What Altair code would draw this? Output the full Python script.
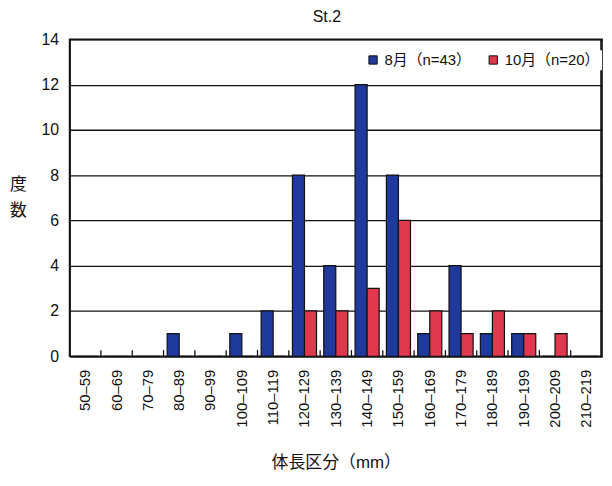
import altair as alt
import pandas as pd

categories = ["50–59", "60–69", "70–79", "80–89", "90–99", "100–109", "110–119",
              "120–129", "130–139", "140–149", "150–159", "160–169", "170–179",
              "180–189", "190–199", "200–209", "210–219"]
aug = [0, 0, 0, 1, 0, 1, 2, 8, 4, 12, 8, 1, 4, 1, 1, 0, 0]
octo = [0, 0, 0, 0, 0, 0, 0, 2, 2, 3, 6, 2, 1, 2, 1, 1, 0]
series = ["8月（n=43）", "10月（n=20）"]
colors = ["#1F3A9C", "#E0384C"]

rows = []
for c, a, o in zip(categories, aug, octo):
    rows.append({"cat": c, "series": series[0], "v": a})
    rows.append({"cat": c, "series": series[1], "v": o})
df = pd.DataFrame(rows)
ticks_df = pd.DataFrame({"cat": categories[1:]})

FONT = "Liberation Sans, Arial, Noto Sans CJK JP"
W, H = 536, 319
INK = "#111111"

xscale = alt.Scale(domain=categories, paddingInner=0, paddingOuter=0)
yscale = alt.Scale(domain=[0, 14], nice=False)

bars = alt.Chart(df).mark_bar(stroke=INK, strokeWidth=1.2).encode(
    x=alt.X("cat:N", scale=xscale, sort=categories,
            axis=alt.Axis(title="体長区分（mm）", labelAngle=270, labelFontSize=15,
                          labelFont=FONT, labelColor=INK, labelPadding=13,
                          ticks=False, domain=True, domainColor=INK, domainWidth=1.6,
                          titleFont=FONT, titleFontSize=17,
                          titleFontWeight="normal", titleColor=INK,
                          titleY=99, titleBaseline="top")),
    xOffset=alt.XOffset("series:N", sort=series,
                        scale=alt.Scale(domain=series, paddingInner=0, paddingOuter=0.3)),
    y=alt.Y("v:Q", scale=yscale,
            axis=alt.Axis(values=[0, 2, 4, 6, 8, 10, 12, 14], ticks=False, domain=True,
                          domainColor=INK, domainWidth=1.6,
                          grid=True, gridColor=INK, gridWidth=1.3, gridOpacity=1,
                          labelFont=FONT, labelFontSize=16, labelColor=INK,
                          labelPadding=11, title=["度", "数"], titleAngle=0,
                          titleFont=FONT, titleFontSize=17, titleFontWeight="normal",
                          titleColor=INK, titleX=-52, titleY=138,
                          titleAlign="center", titleBaseline="top", titleLineHeight=26)),
    color=alt.Color("series:N", sort=series,
                    scale=alt.Scale(domain=series, range=colors),
                    legend=alt.Legend(title=None, orient="none", legendX=296, legendY=11,
                                      direction="horizontal", symbolType="square",
                                      symbolSize=70, symbolStrokeColor=INK,
                                      symbolStrokeWidth=1, labelFont=FONT,
                                      labelFontSize=15, labelColor=INK,
                                      columnPadding=14, fillColor="white", padding=2)),
)

ticks = alt.Chart(ticks_df).mark_rule(color=INK, strokeWidth=1.3).encode(
    x=alt.X("cat:N", scale=xscale, sort=categories, bandPosition=0),
    y=alt.datum(0),
    y2=alt.datum(0.27),
)

right_edge = alt.Chart(pd.DataFrame({"k": [0]})).mark_rule(
    color=INK, strokeWidth=1.6
).encode(x=alt.value(W - 1), y=alt.value(0), y2=alt.value(H))

chart = alt.layer(bars, ticks, right_edge).properties(
    width=W, height=H,
    title=alt.TitleParams("St.2", fontSize=16, font=FONT, fontWeight="normal",
                          color=INK, offset=6, dx=-9),
    autosize=alt.AutoSizeParams(type="none"),
    padding={"left": 62, "top": 30, "right": 2, "bottom": 120},
).configure(background="white").configure_view(stroke=INK, strokeWidth=1.6)

chart.save("out.html", embed_options={"renderer": "svg", "actions": False})
